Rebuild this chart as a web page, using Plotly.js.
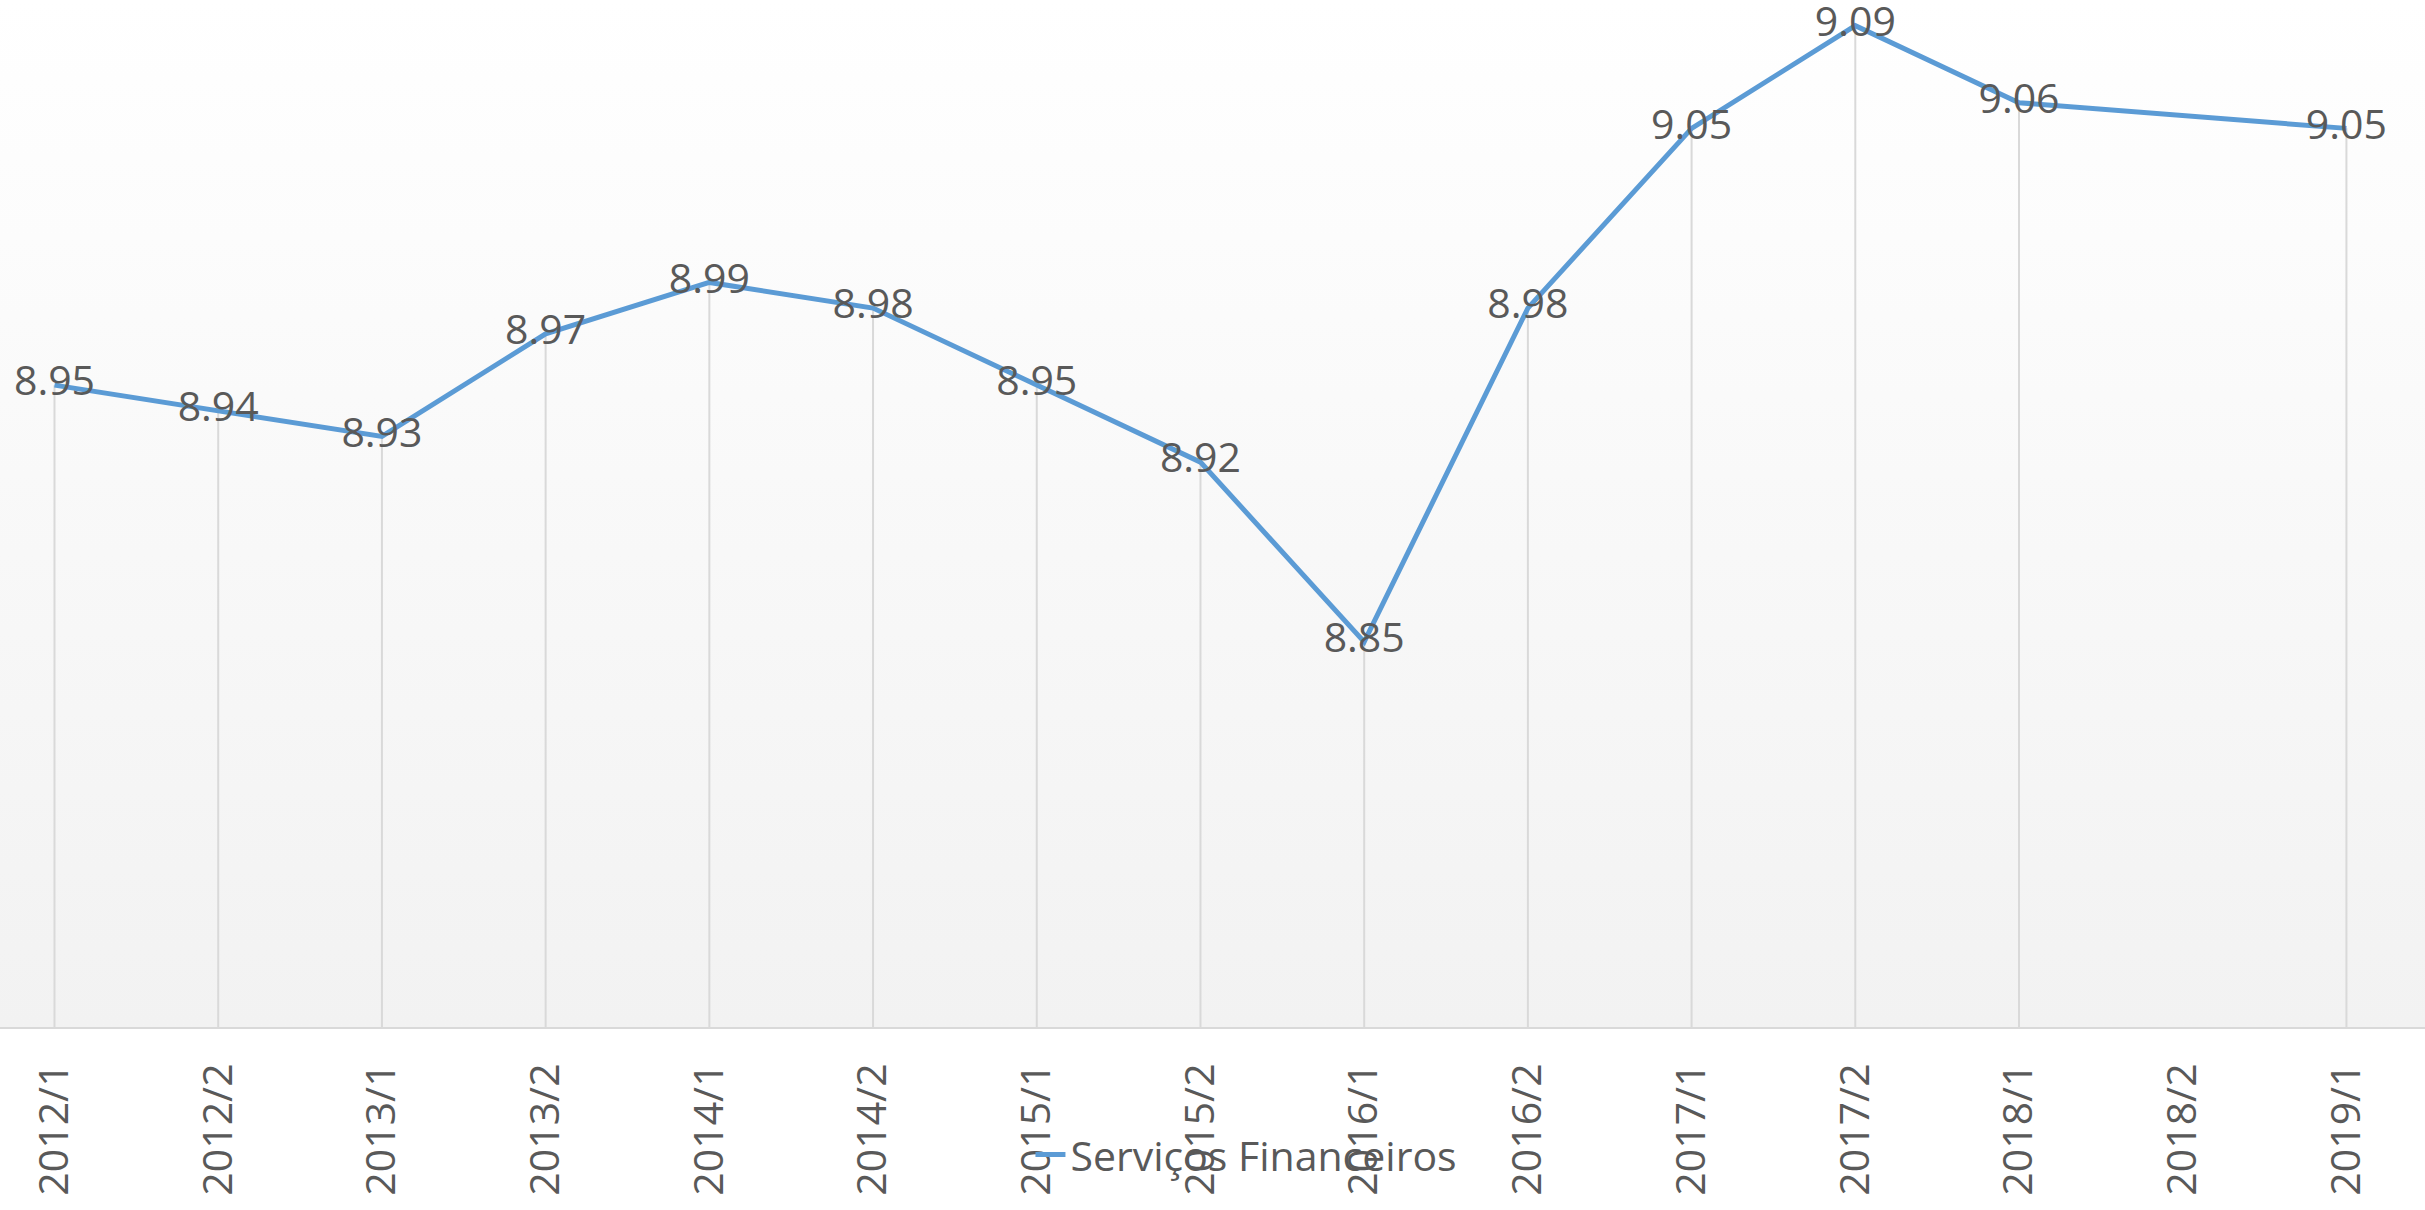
<!DOCTYPE html>
<html>
<head>
<meta charset="utf-8">
<script src="https://cdn.plot.ly/plotly-3.0.1.min.js"></script>
<style>
  html, body { margin: 0; padding: 0; }
  body { width: 2425px; height: 1210px; overflow: hidden;
         background: linear-gradient(to bottom, #ffffff 0px, #f2f2f2 1027px, #ffffff 1027px, #ffffff 1210px); }
  #chart { width: 2425px; height: 1210px; }
</style>
</head>
<body>
<div id="chart"></div>
<script>
const categories = ["2012/1","2012/2","2013/1","2013/2","2014/1","2014/2","2015/1","2015/2","2016/1","2016/2","2017/1","2017/2","2018/1","2018/2","2019/1"];
const values = [8.95, 8.94, 8.93, 8.97, 8.99, 8.98, 8.95, 8.92, 8.85, 8.98, 9.05, 9.09, 9.06, null, 9.05];
const seriesName = "Serviços Financeiros";
const yMin = 8.70, yMax = 9.10;

// drop lines from each point to the category axis
const dropX = [], dropY = [];
categories.forEach((c, i) => {
  if (values[i] !== null) {
    dropX.push(c, c, null);
    dropY.push(yMin, values[i], null);
  }
});

const font = "Open Sans, Noto Sans, DejaVu Sans, sans-serif";
const txtColor = "#595959";

const traces = [
  {
    x: dropX, y: dropY, type: "scatter", mode: "lines",
    line: {color: "#d9d9d9", width: 2},
    hoverinfo: "skip", showlegend: false
  },
  {
    x: categories, y: values, type: "scatter", mode: "lines+text",
    name: seriesName,
    connectgaps: true,
    line: {color: "#5b9bd5", width: 5},
    text: values.map(v => v === null ? "" : v.toFixed(2)),
    textposition: "middle center",
    textfont: {family: font, size: 41, color: txtColor},
    cliponaxis: false
  }
];

const layout = {
  width: 2425, height: 1210,
  margin: {l: 0, r: 0, t: 0, b: 183},
  paper_bgcolor: "rgba(0,0,0,0)",
  plot_bgcolor: "rgba(0,0,0,0)",
  font: {family: font, color: txtColor},
  xaxis: {
    type: "category",
    categoryorder: "array",
    categoryarray: categories,
    range: [-0.333, 14.48],
    showgrid: false, zeroline: false,
    showline: true, linecolor: "#d9d9d9", linewidth: 2,
    ticks: "", tickangle: -90,
    tickfont: {family: font, size: 41, color: txtColor},
    ticklabelstandoff: 18,
    fixedrange: true
  },
  yaxis: {
    range: [yMin, yMax], visible: false, fixedrange: true
  },
  showlegend: true,
  legend: {
    orientation: "h", x: 0.514, xanchor: "center", y: -0.1246, yanchor: "middle",
    bgcolor: "rgba(0,0,0,0)",
    font: {family: font, size: 41, color: txtColor}
  }
};

Plotly.newPlot("chart", traces, layout, {displayModeBar: false, staticPlot: true});
</script>
</body>
</html>
